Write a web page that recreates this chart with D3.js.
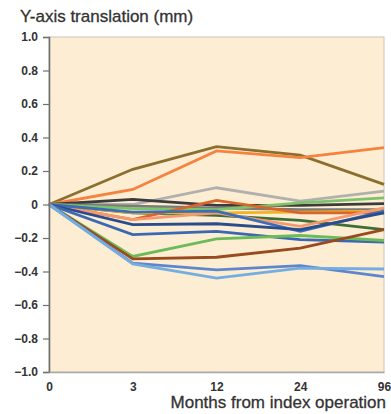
<!DOCTYPE html>
<html><head><meta charset="utf-8">
<script src="https://cdn.jsdelivr.net/npm/d3@7"></script>
<style>body{margin:0;background:#fff;}svg{display:block;}</style>
</head><body>
<div id="chart"></div>
<script>
const months = ["0","3","12","24","96"];
const yTicks = [1.0,0.8,0.6,0.4,0.2,0,-0.2,-0.4,-0.6,-0.8,-1.0];
const seriesNames = ["olive","orange","lightGray","black","midGray","greenUp","darkGreen","gold","darkOrange","salmon","blueUp","navy","blueLow","greenLow","brown","midBlue","lightBlue"];
const seriesColors = ["#8a6f2e","#f5823f","#b0b0ae","#3b3b3b","#7a7a7a","#7cc36a","#3d6e36","#f2b227","#d9652c","#f59a70","#3c6eb8","#2b4c8c","#3a68b2","#6cbb5a","#9a4a1f","#5f86cc","#74ade0"];
const olive      = [0, 0.21, 0.345, 0.295, 0.12];
const orange     = [0, 0.09, 0.32, 0.28, 0.34];
const lightGray  = [0, 0.00, 0.10, 0.02, 0.08];
const black      = [0, 0.03, -0.005, -0.005, 0.005];
const midGray    = [0, -0.01, -0.02, -0.03, -0.03];
const greenUp    = [0, -0.025, -0.03, 0.01, 0.04];
const darkGreen  = [0, -0.05, -0.065, -0.095, -0.15];
const gold       = [0, -0.05, -0.05, -0.045, -0.04];
const darkOrange = [0, -0.09, 0.025, -0.05, -0.05];
const salmon     = [0, -0.09, -0.05, -0.13, -0.02];
const blueUp     = [0, -0.045, -0.04, -0.16, -0.04];
const navy       = [0, -0.12, -0.115, -0.15, -0.05];
const blueLow    = [0, -0.18, -0.16, -0.21, -0.225];
const greenLow   = [0, -0.31, -0.205, -0.185, -0.215];
const brown      = [0, -0.325, -0.315, -0.26, -0.15];
const midBlue    = [0, -0.35, -0.39, -0.365, -0.43];
const lightBlue  = [0, -0.355, -0.44, -0.38, -0.385];
const seriesValues = [olive,orange,lightGray,black,midGray,greenUp,darkGreen,gold,darkOrange,salmon,blueUp,navy,blueLow,greenLow,brown,midBlue,lightBlue];

const W = 391, H = 414;
const m = {left:49, right:7, top:37, bottom:42};
const svg = d3.select("#chart").append("svg").attr("width",W).attr("height",H);
const x = d3.scalePoint().domain(months).range([m.left, W-m.right]);
const y = d3.scaleLinear().domain([-1,1]).range([H-m.bottom, m.top]);

svg.append("rect").attr("x",m.left).attr("y",m.top)
  .attr("width",W-m.right-m.left).attr("height",H-m.bottom-m.top)
  .attr("fill","#fdeed3").attr("stroke","#c8c4bc").attr("stroke-width",1);

const line = d3.line().x((d,i)=>x(months[i])).y(d=>y(d));
const g = svg.append("g");
seriesValues.forEach((vals,k)=>{
  g.append("path").datum(vals).attr("d",line).attr("fill","none")
   .attr("stroke",seriesColors[k]).attr("stroke-width",2.8)
   .attr("stroke-linejoin","miter");
});

const font = "Liberation Sans, Arial, sans-serif";
const yAxis = d3.axisLeft(y).tickValues(yTicks).tickSize(6).tickPadding(5)
  .tickFormat(d=> d===0 ? "0" : d3.format(".1f")(d).replace("-","\u2212"));
const ya = svg.append("g").attr("transform",`translate(${m.left},0)`).call(yAxis);
ya.select(".domain").attr("stroke","#707070").attr("stroke-width",1.6);
ya.selectAll(".tick line").attr("stroke","#707070").attr("stroke-width",1.2);
ya.selectAll("text").attr("font-family",font)
  .attr("font-size",12).attr("font-weight","bold").attr("fill","#333");

const xAxis = d3.axisBottom(x).tickSize(0).tickPadding(10);
const xa = svg.append("g").attr("transform",`translate(0,${H-m.bottom})`).call(xAxis);
xa.select(".domain").attr("stroke","#a8a8a8").attr("stroke-width",1.4);
xa.selectAll("text").attr("font-family",font)
  .attr("font-size",12).attr("font-weight","bold").attr("fill","#333");

svg.append("text").attr("x",20).attr("y",22).text("Y-axis translation (mm)")
  .attr("font-family",font).attr("font-size",17).attr("fill","#333")
  .attr("stroke","#333").attr("stroke-width",0.3);
svg.append("text").attr("x",386).attr("y",408).attr("text-anchor","end").text("Months from index operation")
  .attr("font-family",font).attr("font-size",17).attr("fill","#333")
  .attr("stroke","#333").attr("stroke-width",0.3);
</script>
</body></html>
